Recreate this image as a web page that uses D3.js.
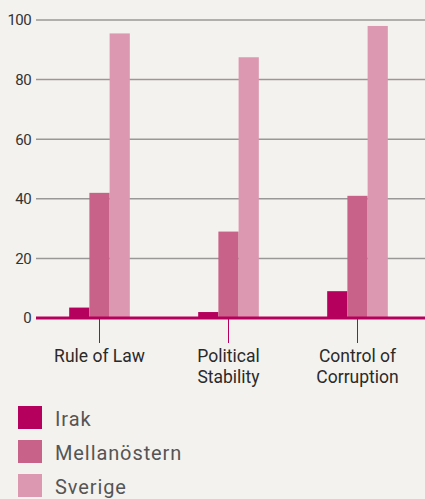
<!DOCTYPE html>
<html>
<head>
<meta charset="utf-8">
<script src="https://cdn.jsdelivr.net/npm/d3@7"></script>
<style>
  html, body { margin: 0; padding: 0; background: #f4f2ee; }
  svg { display: block; font-family: Roboto, "Liberation Sans", sans-serif; }
</style>
</head>
<body>
<div id="chart"></div>
<script>
const categories = [["Rule of Law"], ["Political", "Stability"], ["Control of", "Corruption"]];
const seriesNames = ["Irak", "Mellanöstern", "Sverige"];
const irak = [3.5, 2, 9];
const mellanostern = [42, 29, 41];
const sverige = [95.5, 87.5, 98];
const yTicks = [0, 20, 40, 60, 80, 100];
const colors = ["#b5005d", "#c86288", "#dd98b1"];

const width = 425, height = 499;
const svg = d3.select("#chart").append("svg").attr("width", width).attr("height", height);

const catKeys = categories.map(c => c.join(" "));
const series = [irak, mellanostern, sverige];

const x = d3.scaleBand().domain(catKeys).range([35, 422]).paddingInner(0.53).paddingOuter(0.265);
const xs = d3.scaleBand().domain(seriesNames).range([0, x.bandwidth()]);
const y = d3.scaleLinear().domain([0, 100]).range([318, 20]);

// gridlines + y labels
const grid = svg.append("g");
grid.selectAll("line").data(yTicks.filter(d => d > 0)).enter().append("line")
  .attr("x1", 36).attr("x2", width).attr("y1", d => y(d)).attr("y2", d => y(d))
  .attr("stroke", "#9a9896").attr("stroke-width", 1.5);
grid.selectAll("text").data(yTicks).enter().append("text")
  .attr("x", 31).attr("y", d => y(d)).attr("dy", "0.36em").attr("text-anchor", "end")
  .attr("fill", "#333").style("font-size", "15px").style("letter-spacing", "-0.6px").text(d => d);

// bars
const groups = svg.append("g").selectAll("g").data(catKeys).enter().append("g")
  .attr("transform", d => `translate(${x(d)},0)`);
groups.selectAll("rect").data((d, i) => seriesNames.map((s, j) => ({ s, v: series[j][i], j }))).enter()
  .append("rect")
  .attr("x", d => xs(d.s)).attr("width", xs.bandwidth())
  .attr("y", d => y(d.v)).attr("height", d => y(0) - y(d.v))
  .attr("fill", d => colors[d.j]);

// baseline and category ticks
svg.append("line").attr("x1", 36).attr("x2", width).attr("y1", y(0)).attr("y2", y(0))
  .attr("stroke", "#b5005d").attr("stroke-width", 3);
svg.append("g").selectAll("line").data(catKeys).enter().append("line")
  .attr("x1", d => x(d) + x.bandwidth() / 2).attr("x2", d => x(d) + x.bandwidth() / 2)
  .attr("y1", y(0)).attr("y2", 343)
  .attr("stroke", "#b5005d").attr("stroke-width", 1);

// category labels
const lab = svg.append("g").selectAll("text").data(categories).enter().append("text")
  .attr("text-anchor", "middle").attr("fill", "#2a2a2a").style("font-size", "17.5px")
  .attr("transform", (d, i) => `translate(${x(catKeys[i]) + x.bandwidth() / 2},362)`);
lab.selectAll("tspan").data(d => d).enter().append("tspan")
  .attr("x", 0).attr("dy", (d, i) => i === 0 ? 0 : 21).text(d => d);

// legend
const leg = svg.append("g").selectAll("g").data(seriesNames).enter().append("g")
  .attr("transform", (d, i) => `translate(18,${406 + i * 34})`);
leg.append("rect").attr("width", 24).attr("height", 23).attr("fill", (d, i) => colors[i]);
leg.append("text").attr("x", 37).attr("y", 20)
  .attr("fill", "#555").style("font-size", "20px").style("letter-spacing", "0.9px").text(d => d);
</script>
</body>
</html>
